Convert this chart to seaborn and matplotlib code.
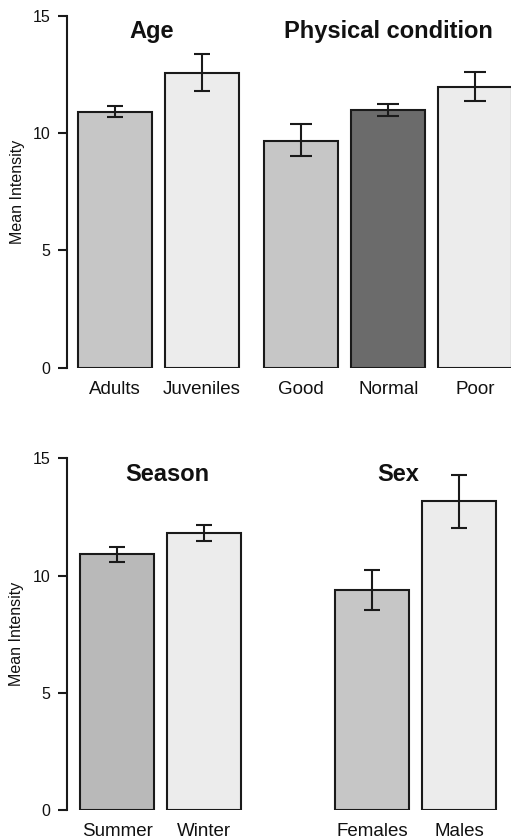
import numpy as np
import matplotlib
matplotlib.use("Agg")
import matplotlib.pyplot as plt
import seaborn as sns

# values (mean and error bar ends)
age_labels = ["Adults", "Juveniles"]
age_mean = [10.91, 12.57]
age_lo = [10.70, 11.79]
age_hi = [11.15, 13.37]

cond_labels = ["Good", "Normal", "Poor"]
cond_mean = [9.67, 10.97, 11.96]
cond_lo = [9.01, 10.71, 11.35]
cond_hi = [10.37, 11.22, 12.59]

season_labels = ["Summer", "Winter"]
season_mean = [10.91, 11.80]
season_lo = [10.59, 11.49]
season_hi = [11.22, 12.16]

sex_labels = ["Females", "Males"]
sex_mean = [9.40, 13.17]
sex_lo = [8.55, 12.04]
sex_hi = [10.25, 14.28]

y_ticks = [0, 5, 10, 15]

EDGE = "#1a1a1a"
LIGHT = "#ececec"
MID = "#c6c6c6"

sns.set_theme(style="ticks")
plt.rcParams["font.family"] = ["Liberation Sans", "DejaVu Sans"]

W, H = 511, 840
fig = plt.figure(figsize=(W / 100, H / 100), dpi=100)


def add_ax(left, right, top, bottom):
    # pixel box -> figure fraction
    return fig.add_axes([left / W, 1 - bottom / H, (right - left) / W, (bottom - top) / H])


def draw_group(ax, labels, mean, lo, hi, colors, title, title_x, xleft,
               capsize, first):
    mean = np.array(mean)
    sns.barplot(x=labels, y=mean, hue=labels, palette=colors, legend=False,
                width=0.85, saturation=1, edgecolor=EDGE, linewidth=1.5,
                errorbar=None, ax=ax)
    ax.errorbar(range(len(labels)), mean,
                yerr=[mean - np.array(lo), np.array(hi) - mean],
                fmt="none", ecolor=EDGE, elinewidth=1.5, capsize=capsize,
                capthick=1.5, zorder=5)
    ax.set_ylim(0, 15)
    ax.set_xlim(xleft, len(labels) - 0.5)
    ax.set_xlabel("")
    ax.text(title_x, 14.03, title, ha="center", va="baseline",
            fontsize=17, fontweight="bold", color="#111111")
    ax.tick_params(axis="x", length=0, labelsize=13.5, pad=9.5, labelcolor="#111111")
    if first:
        sns.despine(ax=ax, bottom=True)
        ax.spines["left"].set_linewidth(1.5)
        ax.spines["left"].set_color(EDGE)
        ax.set_yticks(y_ticks)
        ax.tick_params(axis="y", length=6.5, width=1.5, color=EDGE,
                       labelsize=11.5, pad=5.5, labelcolor="#111111")
        ax.set_ylabel("Mean Intensity", fontsize=11.5, va="center", color="#111111")
        ax.yaxis.set_label_coords(-0.275, 0.5)
    else:
        sns.despine(ax=ax, bottom=True, left=True)
        ax.set_yticks([])
        ax.set_ylabel("")
    ax.patch.set_alpha(0)


# top row
ax1 = add_ax(66.7, 245.2, 15.7, 367.7)
draw_group(ax1, age_labels, age_mean, age_lo, age_hi, [MID, LIGHT],
           "Age", 0.43, -0.552, 5.6, True)
ax2 = add_ax(257.8, 518.8, 15.7, 367.7)
draw_group(ax2, cond_labels, cond_mean, cond_lo, cond_hi, [MID, "#6b6b6b", LIGHT],
           "Physical condition", 1.0, -0.5, 7.8, False)

# bottom row
ax3 = add_ax(66.7, 247.7, 458.3, 810.0)
draw_group(ax3, season_labels, season_mean, season_lo, season_hi, ["#b9b9b9", LIGHT],
           "Season", 0.58, -0.58, 5.6, True)
ax4 = add_ax(328.7, 502.7, 458.3, 810.0)
draw_group(ax4, sex_labels, sex_mean, sex_lo, sex_hi, [MID, LIGHT],
           "Sex", 0.30, -0.5, 5.6, False)

fig.savefig("out.png", dpi=100)
